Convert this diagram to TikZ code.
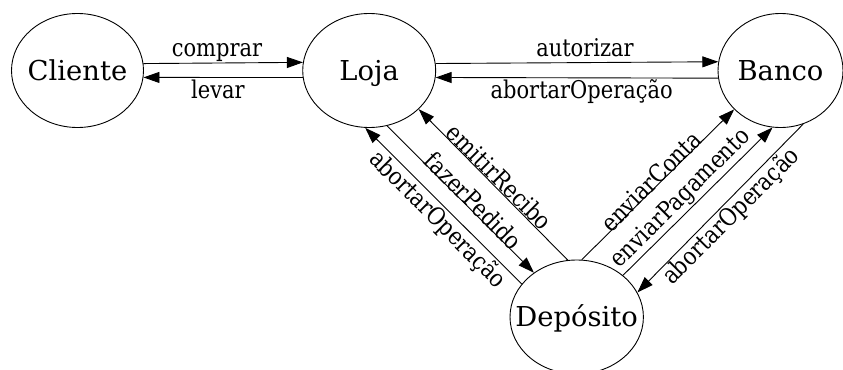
\documentclass[tikz,border=0pt]{standalone}
\usepackage{fontspec}
\setmainfont{DejaVu Serif}
\newfontfamily\labelfont{DejaVu Serif}[FakeStretch=0.86]
\usetikzlibrary{arrows.meta,shapes.geometric}

\tikzset{
  state/.style={draw, ellipse, line width=0.9bp, inner sep=0pt,
    minimum height=114bp, text height=19.4bp, text depth=0pt,
    font=\fontsize{27.5}{30}\selectfont},
  msg/.style={draw, line width=0.9bp, -{Triangle[length=16bp,width=11bp]}},
  lbl/.style={inner sep=0pt, anchor=base, font=\labelfont\fontsize{24.5}{26}\selectfont},
}

\begin{document}
\begin{tikzpicture}[x=1bp, y=1bp]
  \useasboundingbox (0,0) rectangle (843,369);
  \clip (0,0) rectangle (843,369);

  % states
  \node[state, minimum width=132bp]   (cli)   at (77.5,298.5)  {\makebox[0pt]{Cliente}};
  \node[state, minimum width=133bp]   (loja)  at (369.2,298.5) {\makebox[0pt]{Loja}};
  \node[state, minimum width=125bp]   (banco) at (780.5,298.5) {\makebox[0pt]{Banco}};
  \node[state, minimum width=133.4bp] (dep)   at (576.7,52)    {\makebox[0pt]{Depósito}};

  % top row messages
  \draw[msg] (cli.6.80)     -- (loja.173.25);
  \draw[msg] (loja.186.75)  -- (cli.-6.80);
  \draw[msg] (loja.6.75)    -- (banco.172.82);
  \draw[msg] (banco.187.18) -- (loja.-6.75);

  % diagonal messages
  \draw[msg] (loja.-72.4)  -- (dep.134.4);
  \draw[msg] (dep.99.95)   -- (loja.-38.5);
  \draw[msg] (dep.149.2)   -- (loja.-94.2);
  \draw[msg] (dep.85.0)    -- (banco.-140.9);
  \draw[msg] (dep.42.4)    -- (banco.-98.5);
  \draw[msg] (banco.-67.4) -- (dep.22.6);

  % labels
  \node[lbl] (lcomprar) at (217,312.3)   {comprar};
  \node[lbl] (llevar)   at (218,270.7)   {levar};
  \node[lbl] (lautor)   at (585,312.3)   {autorizar};
  \node[lbl] (labortB)  at (581.7,270.5) {abortarOperação};

  \node[lbl, rotate=-45] (lemitir) at (493.4,185.7) {emitirRecibo};
  \node[lbl, rotate=-45] (lfazer)  at (467.4,161.7) {fazerPedido};
  \node[lbl, rotate=-45] (labortL) at (432.5,144.2) {abortarOperação};
  \node[lbl, rotate=45]  (lconta)  at (657.3,181.7) {enviarConta};
  \node[lbl, rotate=45]  (lpag)    at (685.6,165.8) {enviarPagamento};
  \node[lbl, rotate=45]  (labortR) at (736.5,147.5) {abortarOperação};
\end{tikzpicture}
\end{document}
